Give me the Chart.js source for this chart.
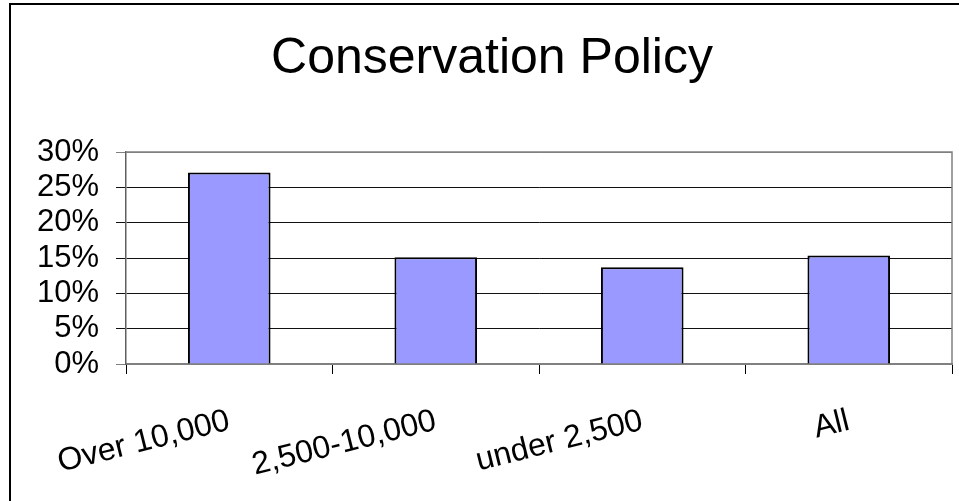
<!DOCTYPE html>
<html>
<head>
<meta charset="utf-8">
<script src="https://cdn.jsdelivr.net/npm/chart.js@4"></script>
<style>
  html, body { margin: 0; padding: 0; background: #fff; }
  #wrap { width: 959px; height: 501px; position: relative; }
</style>
</head>
<body>
<div id="wrap"><canvas id="c"></canvas></div>
<script>
const categories = ["Over 10,000", "2,500-10,000", "under 2,500", "All"];
const values = [27.1, 15.1, 13.7, 15.35];
const yTicks = [0, 5, 10, 15, 20, 25, 30];
const titleText = "Conservation Policy";

const FONT = "'Liberation Sans', Arial, sans-serif";

const framePlugin = {
  id: 'frame',
  afterDraw(chart) {
    const ctx = chart.ctx;
    const a = chart.chartArea;
    ctx.save();
    ctx.strokeStyle = '#000';
    ctx.lineWidth = 2;
    ctx.strokeRect(10, 4, 1000, 600);
    ctx.strokeStyle = '#808080';
    ctx.lineWidth = 1.5;
    ctx.beginPath();
    ctx.moveTo(a.left, a.top);
    ctx.lineTo(a.right, a.top);
    ctx.lineTo(a.right, a.bottom);
    ctx.stroke();
    ctx.restore();
  }
};

new Chart(document.getElementById('c'), {
  type: 'bar',
  data: {
    labels: categories,
    datasets: [{
      data: values,
      backgroundColor: '#9999FF',
      borderColor: '#000',
      borderWidth: 2,
      barPercentage: 0.4,
      categoryPercentage: 1.0
    }]
  },
  plugins: [framePlugin],
  options: {
    responsive: true,
    maintainAspectRatio: false,
    animation: false,
    layout: { padding: { left: 32, right: 7, top: 0, bottom: 0 } },
    plugins: {
      legend: { display: false },
      tooltip: { enabled: false },
      title: {
        display: true,
        text: titleText,
        color: '#000',
        font: { family: FONT, size: 50, weight: 'normal' },
        padding: { top: 29, bottom: 63 }
      }
    },
    scales: {
      x: {
        offset: true,
        grid: {
          display: true,
          drawOnChartArea: false,
          drawTicks: true,
          tickLength: 10,
          color: '#000',
          offset: true
        },
        border: { display: true, color: '#808080', width: 1.5 },
        ticks: {
          color: '#000',
          font: { family: FONT, size: 32 },
          minRotation: 14,
          maxRotation: 14,
          padding: 28,
          autoSkip: false
        },
        afterFit(s) { s.height = 137; }
      },
      y: {
        min: 0,
        max: 30,
        afterBuildTicks(s) { s.ticks = yTicks.map(v => ({ value: v })); },
        grid: {
          display: true,
          drawTicks: true,
          tickLength: 10,
          lineWidth: 1,
          color: (ctx) => (ctx.tick && (ctx.tick.value === 30 || ctx.tick.value === 0)) ? '#808080' : '#111'
        },
        border: { display: true, color: '#606060', width: 1.5 },
        ticks: {
          color: '#000',
          font: { family: FONT, size: 31 },
          padding: 17,
          autoSkip: false,
          callback: (v) => v + '%'
        },
        afterFit(s) { s.width = 94; }
      }
    }
  }
});
</script>
</body>
</html>
